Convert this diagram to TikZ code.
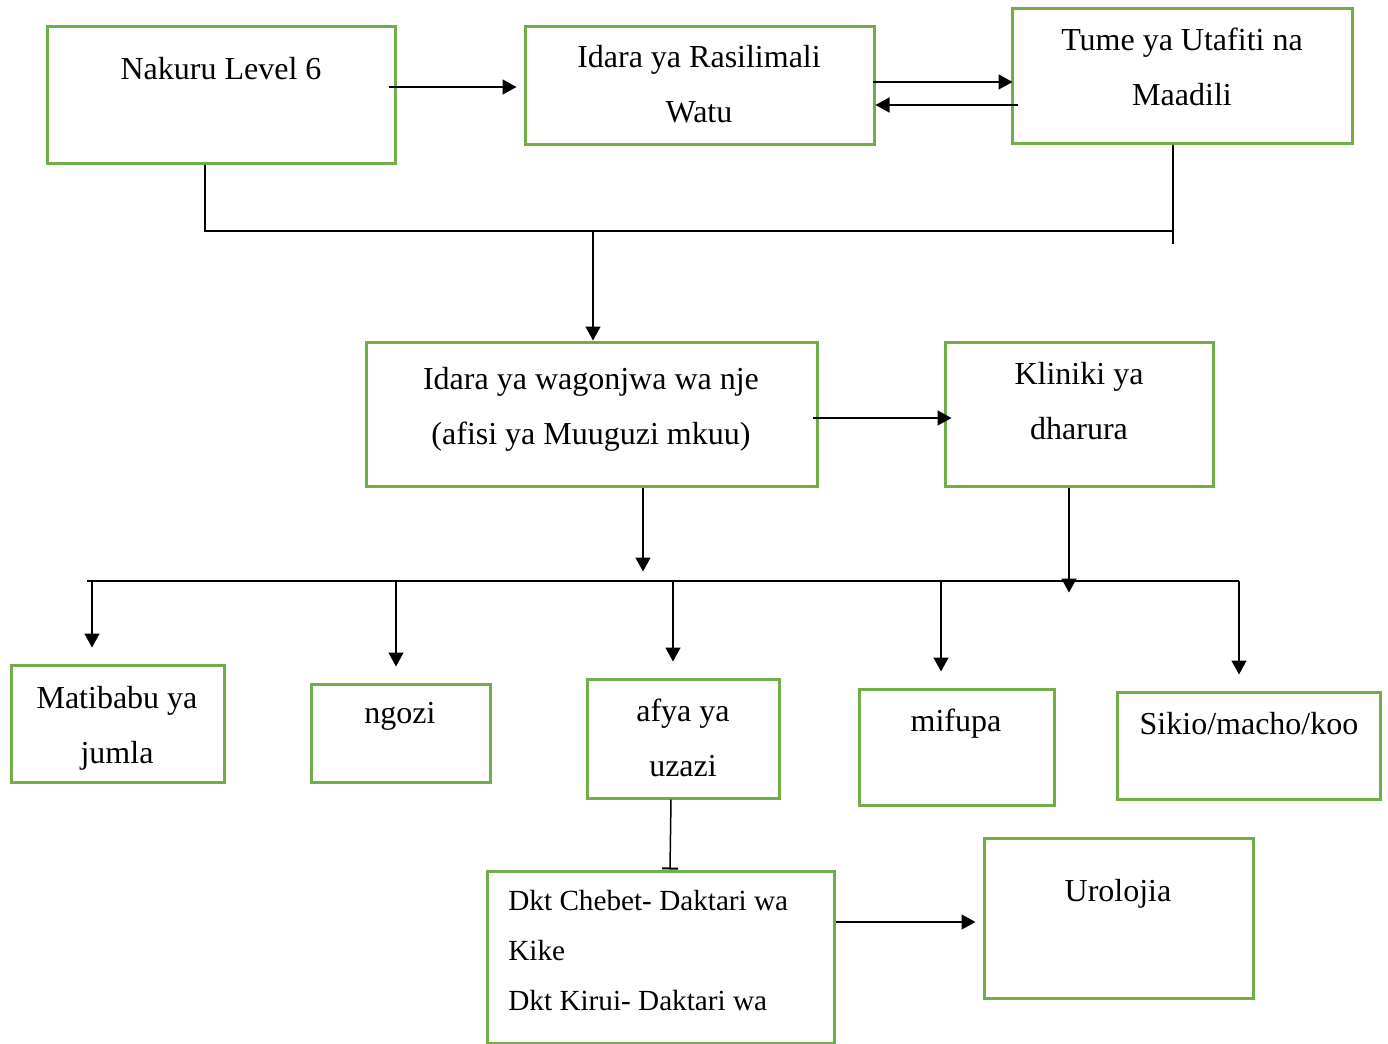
\documentclass[tikz,border=0pt]{standalone}
\usepackage{fontspec}
\setmainfont{Liberation Serif}
\usepackage{tikz}
\usetikzlibrary{arrows.meta}
\definecolor{boxgreen}{RGB}{112,173,71}
\tikzset{
    box/.style={draw=boxgreen, line width=1.5pt, inner sep=0pt},
    lbl/.style={font={\fontsize{16}{27.5}\selectfont}, align=center, inner sep=0pt},
    arr/.style={-{Triangle[length=7pt,width=7.5pt]}, line width=0.75pt},
    wire/.style={line width=0.75pt}
}
\begin{document}
\begin{tikzpicture}[x=0.5pt, y=-0.5pt]
        \useasboundingbox (0,0) rectangle (1388,1044);
        \node[box, minimum width=174pt, minimum height=68.5pt] (nakuru) at (221,94.5) {};
        \node[lbl] (nakurut) at (221,69) {Nakuru Level 6};
        \node[box, minimum width=174.5pt, minimum height=59pt] (rasil) at (699.5,85) {};
        \node[lbl] (rasilt) at (699,84) {Idara ya Rasilimali\\Watu};
        \node[box, minimum width=170pt, minimum height=67.5pt] (tume) at (1182,75.5) {};
        \node[lbl] (tumet) at (1182,66.5) {Tume ya Utafiti na\\Maadili};
        \node[box, minimum width=225.5pt, minimum height=72pt] (nje) at (591.5,414) {};
        \node[lbl] (njet) at (591,409.5) {Idara ya wagonjwa wa nje\\(afisi ya Muuguzi mkuu)};
        \node[box, minimum width=134pt, minimum height=72pt] (dharura) at (1079,414) {};
        \node[lbl] (dharurat) at (1079,401.5) {Kliniki ya\\dharura};
        \node[box, minimum width=106.5pt, minimum height=58.5pt] (jumla) at (117.5,723.5) {};
        \node[lbl] (jumlat) at (117,728.5) {Matibabu ya\\jumla};
        \node[box, minimum width=89.5pt, minimum height=49pt] (ngozi) at (400.5,733) {};
        \node[lbl] (ngozit) at (400,716) {ngozi};
        \node[box, minimum width=96pt, minimum height=59.5pt] (uzazi) at (683,738.5) {};
        \node[lbl] (uzazit) at (683,737.5) {afya ya\\uzazi};
        \node[box, minimum width=97.5pt, minimum height=58pt] (mifupa) at (956.5,747) {};
        \node[lbl] (mifupat) at (956,724) {mifupa};
        \node[box, minimum width=131.5pt, minimum height=53.5pt] (sikio) at (1248.5,745.5) {};
        \node[lbl] (sikiot) at (1249,724) {Sikio/macho/koo};
        \node[box, minimum width=173.5pt, minimum height=86pt] (dkt) at (660.5,957) {};
        \node[lbl, align=left, anchor=west, font={\fontsize{14.6}{25}\selectfont}] (dktt) at (508,951) {Dkt Chebet- Daktari wa\\Kike\\Dkt Kirui- Daktari wa};
        \node[box, minimum width=134.5pt, minimum height=80pt] (uro) at (1118.5,918) {};
        \node[lbl] (urot) at (1118,894) {Urolojia};

        \draw[arr, shorten <=-4pt, shorten >=3.5pt] (nakuru.east |- 0,87) -- (rasil.west |- 0,87);
        \draw[arr, shorten <=-1.5pt, shorten >=-1pt] (rasil.east |- 0,82) -- (tume.west |- 0,82);
        \draw[arr, shorten <=-3.5pt] (tume.west |- 0,105) -- (rasil.east |- 0,105);

        \coordinate (bus1) at (593,231);
        \draw[wire] ([xshift=-8pt]nakuru.south) |- (bus1) -| ([xshift=-4.5pt]tume.south);
        \draw[wire] ([xshift=-4.5pt]tume.south) -- ++(0,99);
        \draw[arr] (bus1) -- (bus1 |- nje.north);
        \draw[arr, shorten <=-3pt] (nje.east |- 0,418) -- ([xshift=4pt]dharura.west |- 0,418);

        \coordinate (busL) at (87,581);
        \coordinate (busR) at (1239,581);
        \draw[wire] (busL) -- (busR);
        \draw[arr] ([xshift=25.75pt]nje.south) -- ++(0,84);
        \draw[arr] ([xshift=-5pt]dharura.south) -- ++(0,105);
        \foreach \n/\x in {jumla/92, ngozi/396, uzazi/673, mifupa/941, sikio/1239}
            \draw[arr, shorten >=8pt] (\x,581) -- (\n.north -| \x,581);

        \draw[wire, -{Bar[width=8pt, line width=1pt]}] ([xshift=-6pt]uzazi.south) -- ([xshift=4.75pt]dkt.north);
        \draw[arr, shorten >=3.5pt] (dkt.east |- 0,922) -- (uro.west |- 0,922);
\end{tikzpicture}
\end{document}
